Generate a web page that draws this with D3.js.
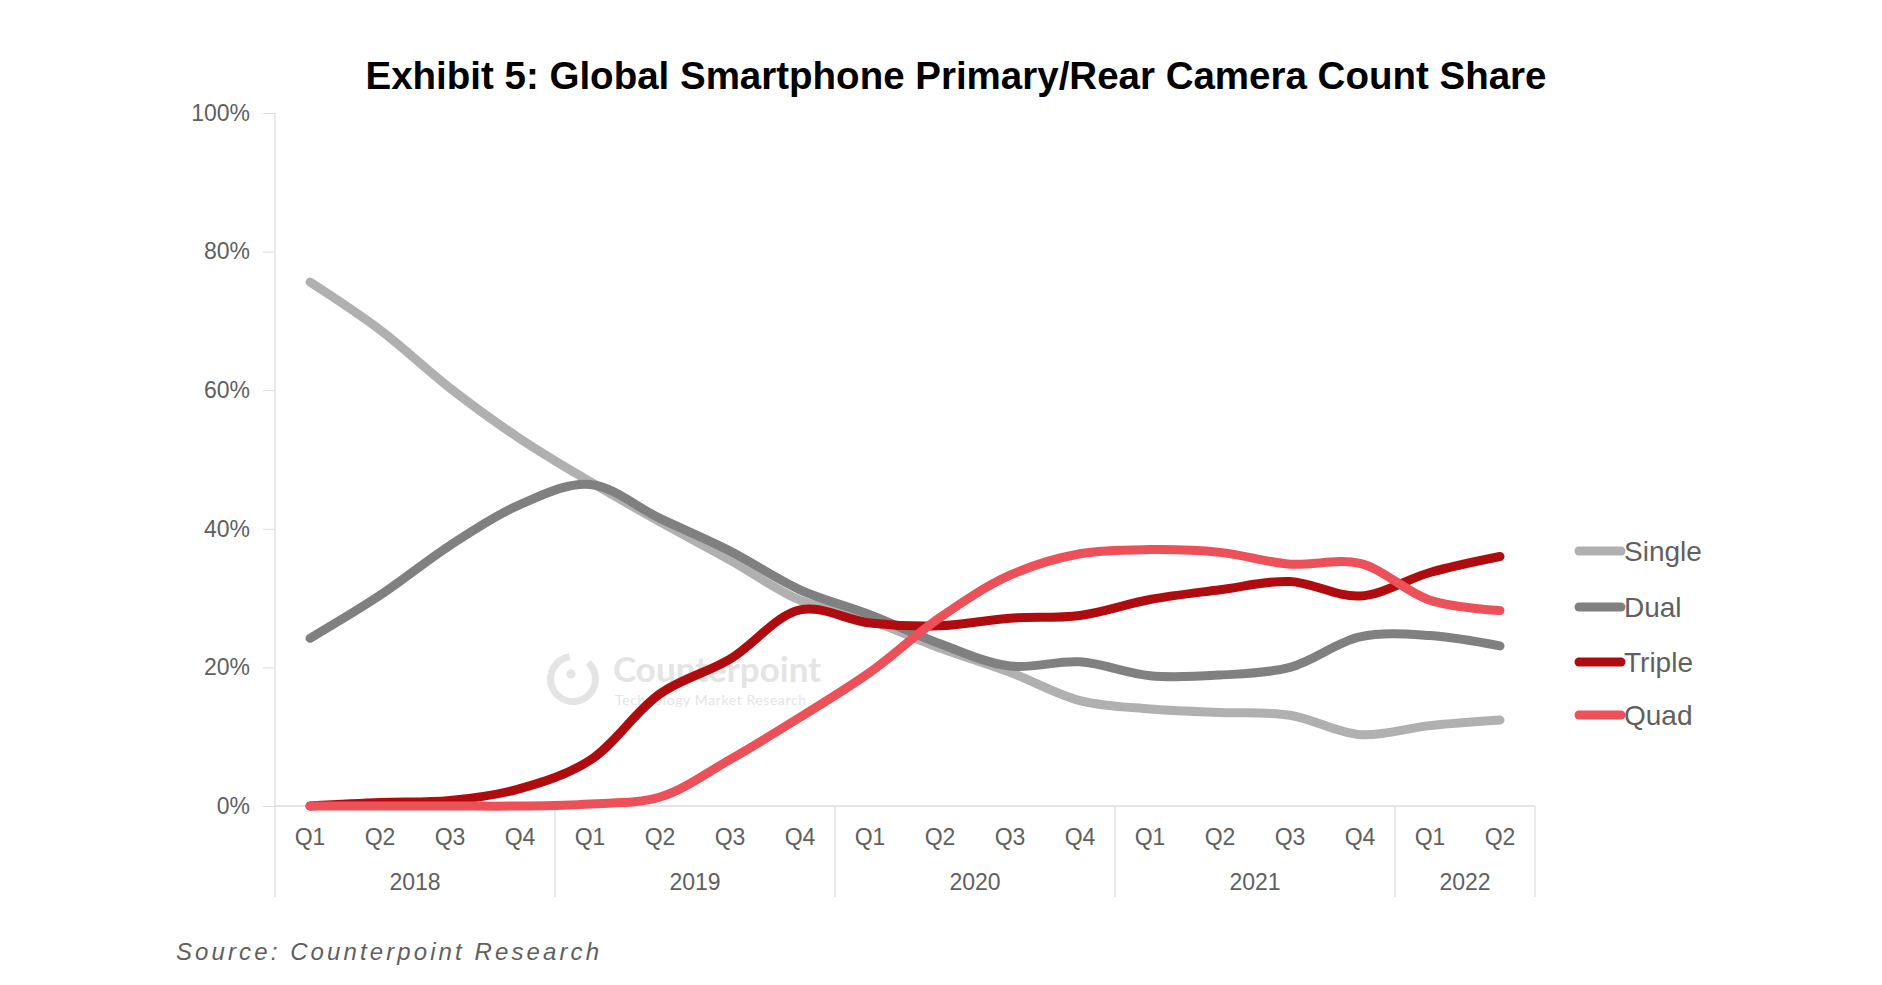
<!DOCTYPE html>
<html>
<head>
<meta charset="utf-8">
<script src="https://cdn.jsdelivr.net/npm/d3@7"></script>
<style>
  body { margin: 0; background: #fff; }
  svg { display: block; font-family: "Liberation Sans", Arial, sans-serif; }
</style>
</head>
<body>
<div id="chart"></div>
<script>
// Data
const years = ["2018", "2019", "2020", "2021", "2022"];
const quartersPerYear = [4, 4, 4, 4, 2];
const seriesNames = ["Single", "Dual", "Triple", "Quad"];
const seriesColors = ["#b0b0b0", "#808080", "#b00c10", "#ec5058"];

const single = [75.6, 68.7, 60.3, 53.0, 46.8, 41.0, 35.5, 29.7, 26.8, 22.8, 19.3, 15.2, 14.0, 13.5, 13.1, 10.3, 11.6, 12.4];
const dual   = [24.2, 30.4, 37.6, 43.5, 46.4, 41.5, 36.8, 31.2, 27.6, 23.4, 20.2, 20.8, 18.8, 18.9, 20.0, 24.4, 24.6, 23.1];
const triple = [0.0, 0.5, 0.8, 2.5, 6.6, 16.2, 21.2, 28.3, 26.4, 26.0, 27.1, 27.5, 29.8, 31.2, 32.4, 30.3, 33.7, 36.0];
const quad   = [0.0, 0.0, 0.0, 0.0, 0.3, 1.3, 6.7, 12.8, 19.3, 27.2, 33.3, 36.4, 37.0, 36.6, 34.9, 35.0, 29.7, 28.2];
const yTicks = [0, 20, 40, 60, 80, 100];

const W = 1882, H = 985;
const margin = { left: 275, right: 1535, top: 113, bottom: 806 };

// build categories
const categories = [];
years.forEach((y, i) => {
    for (let q = 1; q <= quartersPerYear[i]; q++) categories.push({ id: y + "Q" + q, q: "Q" + q, year: y });
});

const svg = d3.select("#chart").append("svg")
    .attr("width", W)
    .attr("height", H);

const x = d3.scaleBand()
    .domain(categories.map(d => d.id))
    .range([margin.left, margin.right]);

const y = d3.scaleLinear()
    .domain([0, 100])
    .range([margin.bottom, margin.top]);

// Title
svg.append("text")
    .attr("x", 956)
    .attr("y", 89)
    .attr("text-anchor", "middle")
    .style("font-size", "38.5px")
    .style("font-weight", "bold")
    .attr("fill", "#000")
    .text("Exhibit 5: Global Smartphone Primary/Rear Camera Count Share");

// Y axis
const yAxis = svg.append("g")
    .attr("transform", `translate(${margin.left},0)`)
    .call(d3.axisLeft(y).tickValues(yTicks).tickFormat(d => d + "%").tickSize(12).tickPadding(13));
yAxis.select(".domain").remove();
yAxis.selectAll(".tick line").attr("stroke", "#dcdcdc");
yAxis.selectAll(".tick text")
    .attr("fill", "#5f5f5f")
    .style("font-size", "23px")
    .style("font-family", "'Liberation Sans', Arial, sans-serif");

// vertical axis line
svg.append("line")
    .attr("x1", margin.left).attr("x2", margin.left)
    .attr("y1", margin.top).attr("y2", 897)
    .attr("stroke", "#e2e2e2").attr("stroke-width", 1.5);

// baseline
svg.append("line")
    .attr("x1", margin.left).attr("x2", margin.right)
    .attr("y1", y(0)).attr("y2", y(0))
    .attr("stroke", "#dcdcdc").attr("stroke-width", 1.5);

// quarter labels
svg.append("g").selectAll("text")
    .data(categories)
    .enter().append("text")
    .attr("x", d => x(d.id) + x.bandwidth() / 2)
    .attr("y", 845)
    .attr("text-anchor", "middle")
    .attr("fill", "#5f5f5f")
    .style("font-size", "23px")
    .text(d => d.q);

// year groups: separators + labels
const yearGroups = years.map(yr => {
    const ids = categories.filter(c => c.year === yr).map(c => c.id);
    return { year: yr, x0: x(ids[0]), x1: x(ids[ids.length - 1]) + x.bandwidth() };
});

svg.append("g").selectAll("line")
    .data(yearGroups.slice(1).map(g => g.x0).concat([margin.right]))
    .enter().append("line")
    .attr("x1", d => d).attr("x2", d => d)
    .attr("y1", y(0)).attr("y2", 897)
    .attr("stroke", "#e2e2e2").attr("stroke-width", 1.5);

svg.append("g").selectAll("text")
    .data(yearGroups)
    .enter().append("text")
    .attr("x", d => (d.x0 + d.x1) / 2)
    .attr("y", 890)
    .attr("text-anchor", "middle")
    .attr("fill", "#5f5f5f")
    .style("font-size", "23px")
    .text(d => d.year);

// watermark
const wm = svg.append("g").attr("fill", "#e4e4e4");
wm.append("path")
    .attr("transform", "translate(573,679)")
    .attr("d", d3.arc().innerRadius(19).outerRadius(26).startAngle(0.75).endAngle(2 * Math.PI - 0.15)())
    .attr("fill", "#e4e4e4");
wm.append("circle").attr("cx", 571).attr("cy", 674).attr("r", 4.5);
wm.append("text")
    .attr("x", 613).attr("y", 682)
    .style("font-size", "35px")
    .style("font-weight", "bold")
    .style("font-family", "Lato, 'Open Sans', sans-serif")
    .text("Counterpoint");
wm.append("text")
    .attr("x", 615).attr("y", 705)
    .style("font-size", "14px")
    .style("font-family", "Lato, 'Open Sans', sans-serif")
    .style("letter-spacing", "0.6px")
    .text("Technology Market Research");

// lines
const allSeries = [single, dual, triple, quad];
const line = d3.line()
    .x((d, i) => x(categories[i].id) + x.bandwidth() / 2)
    .y(d => y(d))
    .curve(d3.curveCatmullRom.alpha(0.5));

svg.append("g").selectAll("path")
    .data(allSeries)
    .enter().append("path")
    .attr("d", d => line(d))
    .attr("fill", "none")
    .attr("stroke", (d, i) => seriesColors[i])
    .attr("stroke-width", 9)
    .attr("stroke-linecap", "round")
    .attr("stroke-linejoin", "round");

// legend
const legendY = [551, 607, 662, 715];
const legend = svg.append("g").selectAll("g")
    .data(seriesNames)
    .enter().append("g")
    .attr("transform", (d, i) => `translate(1579,${legendY[i]})`);

legend.append("line")
    .attr("x1", 0).attr("x2", 42)
    .attr("stroke", (d, i) => seriesColors[i])
    .attr("stroke-width", 9)
    .attr("stroke-linecap", "round");

legend.append("text")
    .attr("x", 45)
    .attr("dy", "0.35em")
    .attr("fill", "#5f5f5f")
    .style("font-size", "28px")
    .text(d => d);

// source
svg.append("text")
    .attr("x", 176)
    .attr("y", 960)
    .attr("fill", "#5f5f5f")
    .style("font-size", "24px")
    .style("font-style", "italic")
    .style("letter-spacing", "3.1px")
    .text("Source: Counterpoint Research");
</script>
</body>
</html>
